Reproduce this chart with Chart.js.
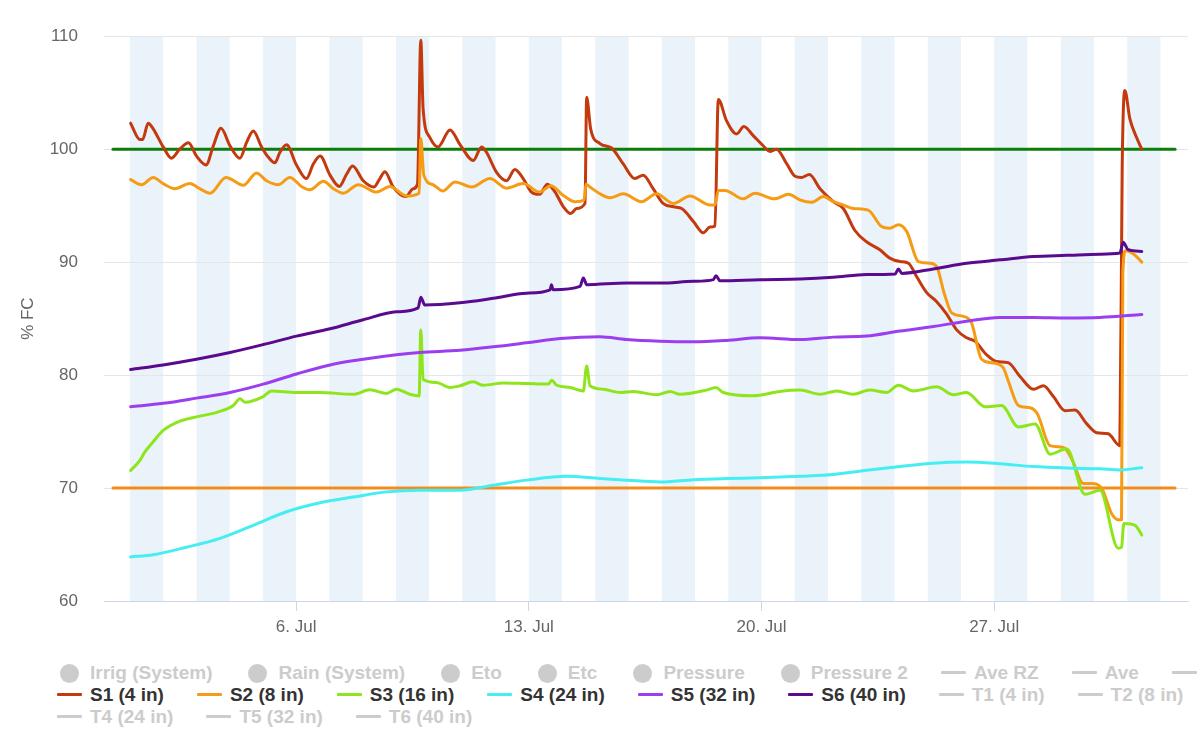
<!DOCTYPE html>
<html lang="en">
<head>
<meta charset="UTF-8">
<meta name="viewport" content="width=device-width, initial-scale=1.0">
<style>
    * {
        margin: 0;
        padding: 0;
        box-sizing: border-box;
    }
    body {
        width: 1200px;
        height: 756px;
        background: #fff;
        overflow: hidden;
        position: relative;
        font-family: "Liberation Sans", Arial, sans-serif;
    }
    .chart-box {
        position: absolute;
        left: 0;
        top: 0;
        width: 1200px;
        height: 641px;
    }
    .legend {
        position: absolute;
        left: 0;
        top: 662px;
        width: 1200px;
        height: 70px;
        overflow: hidden;
    }
    .legend-row {
        position: absolute;
        left: 57px;
        height: 22px;
        display: flex;
        align-items: center;
        white-space: nowrap;
    }
    .item {
        display: flex;
        align-items: center;
        margin-right: 33px;
        font-size: 19px;
        font-weight: bold;
        color: #333;
    }
    .item.off {
        color: #cccccc;
    }
    .sym {
        position: relative;
        width: 25px;
        height: 20px;
        margin-right: 8px;
        flex: none;
    }
    .sym .ln {
        position: absolute;
        left: 0;
        right: 0;
        top: 8px;
        height: 3px;
        border-radius: 1px;
    }
    .sym .dot {
        position: absolute;
        left: 3px;
        top: 1px;
        width: 19px;
        height: 19px;
        border-radius: 50%;
    }
</style>
</head>
<body>
    <div class="chart-box">
        <canvas id="moistureChart" width="1200" height="641"></canvas>
    </div>
    <div class="legend" id="legend"></div>

    <script src="https://cdn.jsdelivr.net/npm/chart.js"></script>
    <script>
        // x values are day of July (1.0 = Jul 1, 00:00)
        const TICK_DAYS = [6, 13, 20, 27];
        const SHADED_DAYS = [1, 3, 5, 7, 9, 11, 13, 15, 17, 19, 21, 23, 25, 27, 29, 31];

        const S1_DAYS = [1.02, 1.30, 1.38, 1.55, 1.70, 2.0, 2.25, 2.5, 2.76, 3.0, 3.29, 3.51, 3.74, 4.01, 4.31, 4.51, 4.71, 4.96, 5.16, 5.36, 5.51, 5.71, 6.01, 6.31, 6.52, 6.72, 7.02, 7.30, 7.52, 7.70, 8.02, 8.34, 8.52, 8.67, 8.92, 9.30, 9.52, 9.65, 9.75, 9.82, 10.02, 10.27, 10.63, 10.93, 11.33, 11.58, 11.73, 12.03, 12.33, 12.58, 12.83, 13.08, 13.32, 13.56, 13.79, 14.04, 14.26, 14.44, 14.69, 14.74, 14.86, 15.14, 15.49, 15.84, 16.19, 16.44, 16.74, 17.04, 17.35, 17.6, 17.95, 18.25, 18.45, 18.60, 18.70, 18.95, 19.25, 19.47, 19.75, 20.05, 20.25, 20.45, 20.76, 21.01, 21.2, 21.44, 21.76, 22.16, 22.46, 22.81, 23.16, 23.56, 23.86, 24.17, 24.42, 24.67, 24.97, 25.27, 25.57, 25.87, 26.17, 26.42, 26.77, 27.07, 27.42, 27.77, 28.18, 28.48, 28.78, 29.13, 29.43, 29.78, 30.08, 30.43, 30.78, 30.85, 30.93, 31.08, 31.28, 31.44];
        const S1_VALUES = [102.3, 100.85, 100.85, 102.3, 101.8, 100.2, 99.2, 100.0, 100.56, 99.4, 98.6, 100.3, 101.85, 100.3, 99.2, 100.6, 101.6, 100.2, 99.3, 98.8, 99.7, 100.4, 98.6, 97.4, 98.7, 99.4, 97.7, 96.7, 97.8, 98.5, 97.2, 96.65, 97.4, 98.0, 96.65, 95.8, 96.5, 96.9, 109.65, 103.55, 101.05, 100.2, 101.7, 100.4, 99.0, 100.2, 99.7, 97.95, 97.2, 98.2, 97.4, 96.2, 96.0, 96.9, 96.2, 94.9, 94.3, 94.75, 95.2, 104.6, 101.8, 100.5, 100.1, 98.7, 97.4, 97.7, 96.5, 95.2, 94.9, 94.75, 93.6, 92.6, 93.1, 93.2, 104.4, 102.5, 101.35, 102.0, 101.2, 100.3, 99.8, 100.0, 98.7, 97.6, 97.5, 97.75, 96.5, 95.35, 94.75, 92.8, 91.8, 91.1, 90.35, 90.05, 89.9, 88.7, 87.3, 86.5, 85.4, 84.0, 83.3, 83.0, 81.8, 81.2, 81.1, 79.9, 78.75, 79.05, 78.1, 76.85, 76.9, 75.7, 74.9, 74.8, 73.75, 98.3, 105.2, 102.7, 101.05, 100.0];

        const S2_DAYS = [1.02, 1.35, 1.70, 2.0, 2.35, 2.8, 3.1, 3.41, 3.89, 4.41, 4.81, 5.11, 5.46, 5.81, 6.16, 6.41, 6.82, 7.12, 7.42, 7.87, 8.42, 8.82, 9.32, 9.70, 9.75, 9.84, 10.12, 10.41, 10.78, 11.28, 11.83, 12.33, 12.83, 13.33, 13.66, 14.04, 14.39, 14.66, 14.72, 14.84, 15.14, 15.44, 15.84, 16.39, 16.84, 17.35, 17.85, 18.45, 18.60, 18.70, 18.90, 19.45, 19.80, 20.4, 20.81, 21.16, 21.51, 21.86, 22.16, 22.46, 22.76, 23.21, 23.61, 23.86, 24.12, 24.37, 24.72, 25.07, 25.27, 25.5, 25.72, 26.07, 26.32, 26.62, 26.92, 27.27, 27.42, 27.73, 28.08, 28.30, 28.68, 29.08, 29.33, 29.68, 29.93, 30.23, 30.53, 30.73, 30.83, 30.87, 30.95, 31.2, 31.44];
        const S2_VALUES = [97.3, 96.85, 97.5, 96.95, 96.5, 96.95, 96.5, 96.1, 97.5, 96.8, 97.9, 97.2, 96.85, 97.5, 96.7, 96.4, 97.15, 96.5, 96.1, 96.85, 96.2, 96.7, 95.85, 96.1, 100.95, 97.7, 96.85, 96.3, 97.1, 96.65, 97.4, 96.55, 96.95, 96.2, 96.75, 95.9, 95.35, 95.5, 96.9, 96.65, 96.05, 95.7, 96.05, 95.35, 96.05, 95.2, 95.85, 95.05, 95.05, 96.35, 96.35, 95.6, 96.1, 95.6, 96.0, 95.5, 95.3, 95.8, 95.35, 95.05, 94.75, 94.6, 93.15, 93.0, 93.3, 92.7, 90.05, 89.9, 89.6, 87.2, 85.5, 85.2, 84.6, 81.4, 81.1, 80.66, 79.5, 77.3, 77.1, 76.55, 73.75, 73.6, 72.6, 70.4, 70.4, 70.0, 67.75, 67.2, 67.2, 89.0, 91.0, 90.7, 90.0];

        const S3_DAYS = [1.02, 1.30, 1.45, 1.70, 2.0, 2.4, 3.0, 3.61, 4.11, 4.31, 4.46, 5.01, 5.26, 6.01, 6.72, 7.72, 8.22, 8.72, 9.02, 9.42, 9.70, 9.75, 9.82, 10.22, 10.63, 10.93, 11.33, 11.63, 12.23, 12.93, 13.59, 13.69, 13.84, 14.24, 14.64, 14.74, 14.84, 15.24, 15.74, 16.14, 16.85, 17.25, 17.55, 18.35, 18.63, 18.85, 19.75, 20.55, 21.16, 21.76, 22.26, 22.76, 23.26, 23.76, 24.12, 24.57, 25.27, 25.77, 26.17, 26.72, 27.22, 27.73, 28.23, 28.68, 29.18, 29.73, 30.18, 30.73, 30.83, 30.9, 31.24, 31.44];
        const S3_VALUES = [71.55, 72.45, 73.2, 74.1, 75.1, 75.8, 76.3, 76.7, 77.3, 77.9, 77.6, 78.1, 78.6, 78.46, 78.46, 78.3, 78.7, 78.37, 78.75, 78.3, 78.15, 84.0, 79.6, 79.34, 78.9, 79.05, 79.4, 79.1, 79.3, 79.25, 79.2, 79.55, 79.1, 78.9, 78.6, 80.8, 79.05, 78.75, 78.46, 78.55, 78.25, 78.55, 78.3, 78.67, 78.9, 78.46, 78.17, 78.55, 78.67, 78.3, 78.6, 78.3, 78.67, 78.46, 79.1, 78.6, 78.96, 78.25, 78.46, 77.2, 77.3, 75.4, 75.67, 73.0, 73.47, 69.45, 69.8, 64.67, 64.76, 66.87, 66.7, 65.84];

        const S4_DAYS = [1.02, 1.70, 2.7, 3.71, 4.71, 5.71, 6.72, 7.72, 8.72, 9.72, 10.93, 11.93, 12.93, 14.14, 15.14, 15.94, 16.95, 17.95, 18.95, 19.95, 21.16, 22.16, 23.16, 24.17, 25.17, 26.17, 27.17, 28.18, 29.18, 30.18, 30.78, 31.44];
        const S4_VALUES = [63.9, 64.1, 64.76, 65.55, 66.7, 67.9, 68.7, 69.2, 69.66, 69.8, 69.8, 70.25, 70.7, 71.04, 70.84, 70.7, 70.54, 70.74, 70.84, 70.9, 71.04, 71.2, 71.57, 71.9, 72.2, 72.3, 72.15, 71.9, 71.77, 71.7, 71.6, 71.8];

        const S5_DAYS = [1.02, 2.0, 3.0, 4.01, 5.01, 6.01, 7.02, 8.02, 9.02, 9.72, 10.93, 11.93, 12.93, 13.94, 15.14, 15.94, 16.95, 17.95, 18.95, 19.95, 21.16, 22.16, 23.16, 24.17, 25.17, 26.17, 27.17, 28.18, 29.18, 30.18, 31.44];
        const S5_VALUES = [77.2, 77.5, 77.96, 78.46, 79.2, 80.1, 80.9, 81.4, 81.8, 82.0, 82.2, 82.5, 82.86, 83.24, 83.4, 83.15, 83.0, 82.95, 83.07, 83.3, 83.15, 83.36, 83.45, 83.9, 84.3, 84.77, 85.1, 85.1, 85.06, 85.1, 85.36];

        const S6_DAYS = [1.02, 2.0, 3.0, 4.01, 5.01, 6.01, 7.02, 8.02, 9.02, 9.67, 9.75, 9.87, 10.93, 11.93, 12.93, 13.64, 13.68, 13.73, 14.54, 14.64, 14.74, 15.94, 16.95, 17.95, 18.55, 18.63, 18.75, 19.95, 21.16, 22.16, 23.16, 24.02, 24.12, 24.22, 25.17, 26.17, 27.17, 28.18, 29.18, 30.18, 30.78, 30.88, 31.03, 31.44];
        const S6_VALUES = [80.5, 80.9, 81.4, 82.0, 82.7, 83.45, 84.1, 84.9, 85.6, 85.95, 86.9, 86.2, 86.4, 86.8, 87.25, 87.55, 88.0, 87.55, 87.85, 88.6, 88.0, 88.15, 88.15, 88.3, 88.45, 88.8, 88.35, 88.45, 88.5, 88.65, 88.9, 88.95, 89.4, 89.0, 89.4, 89.9, 90.2, 90.5, 90.6, 90.7, 90.8, 91.75, 91.1, 90.95];

        const LIMIT_DAYS = [0.49, 32.44];
        const UPPER_LIMIT = [100, 100];
        const LOWER_LIMIT = [70, 70];

        const SERIES_NAMES = ['S1 (4 in)', 'S2 (8 in)', 'S3 (16 in)', 'S4 (24 in)', 'S5 (32 in)', 'S6 (40 in)'];
        const SERIES_COLORS = ['#c23a0e', '#f59c14', '#8ee51c', '#45eef2', '#9b3ef0', '#5a0a8f'];

        // legend rows as they wrap in the original; hidden items drawn grey
        const LEGEND_ROW1 = ['Irrig (System)', 'Rain (System)', 'Eto', 'Etc', 'Pressure', 'Pressure 2', 'Ave RZ', 'Ave', ''];
        const LEGEND_ROW1_DOT = [true, true, true, true, true, true, false, false, false];
        const LEGEND_ROW2 = ['S1 (4 in)', 'S2 (8 in)', 'S3 (16 in)', 'S4 (24 in)', 'S5 (32 in)', 'S6 (40 in)', 'T1 (4 in)', 'T2 (8 in)', 'T3 (16 in)'];
        const LEGEND_ROW3 = ['T4 (24 in)', 'T5 (32 in)', 'T6 (40 in)'];

        function pairs(xs, ys) {
            return xs.map((x, i) => ({ x: x, y: ys[i] }));
        }

        const seriesDays = [S1_DAYS, S2_DAYS, S3_DAYS, S4_DAYS, S5_DAYS, S6_DAYS];
        const seriesValues = [S1_VALUES, S2_VALUES, S3_VALUES, S4_VALUES, S5_VALUES, S6_VALUES];

        const datasets = SERIES_NAMES.map((name, i) => ({
            label: name,
            data: pairs(seriesDays[i], seriesValues[i]),
            borderColor: SERIES_COLORS[i],
            borderWidth: 3,
            cubicInterpolationMode: 'monotone',
            order: 6 - i   // later series on top
        }));
        datasets.push({
            label: 'upper',
            data: pairs(LIMIT_DAYS, UPPER_LIMIT),
            borderColor: '#0b7d0b',
            borderWidth: 3,
            order: 10
        });
        datasets.push({
            label: 'lower',
            data: pairs(LIMIT_DAYS, LOWER_LIMIT),
            borderColor: '#f28c1c',
            borderWidth: 3,
            order: 10
        });

        // alternate day shading behind the grid
        const dayBands = {
            id: 'dayBands',
            beforeDraw(chart) {
                const c = chart.ctx;
                const area = chart.chartArea;
                const xs = chart.scales.x;
                c.save();
                c.fillStyle = '#fff';
                c.fillRect(0, 0, chart.width, chart.height);
                c.fillStyle = '#ebf3fa';
                SHADED_DAYS.forEach(d => {
                    const a = Math.max(xs.getPixelForValue(d), area.left);
                    const b = Math.min(xs.getPixelForValue(d + 1), area.right);
                    if (b > a) c.fillRect(a, area.top, b - a, area.bottom - area.top);
                });
                c.restore();
            }
        };

        new Chart(document.getElementById('moistureChart'), {
            type: 'line',
            data: { datasets: datasets },
            options: {
                responsive: false,
                animation: false,
                devicePixelRatio: 1,
                layout: { padding: { left: 14, right: 12, top: 33, bottom: 0 } },
                elements: {
                    point: { radius: 0 },
                    line: { tension: 0, borderJoinStyle: 'round', borderCapStyle: 'round' }
                },
                plugins: {
                    legend: { display: false },
                    tooltip: { enabled: false }
                },
                scales: {
                    x: {
                        type: 'linear',
                        min: 0.22,
                        max: 32.83,
                        afterBuildTicks: axis => {
                            axis.ticks = TICK_DAYS.map(v => ({ value: v }));
                        },
                        afterFit: axis => {
                            axis.height = 40;
                        },
                        grid: {
                            drawOnChartArea: false,
                            drawTicks: true,
                            tickLength: 10,
                            color: '#ccd6eb'
                        },
                        border: { display: true, color: '#ccd6eb', width: 1 },
                        ticks: {
                            color: '#666666',
                            padding: 6,
                            maxRotation: 0,
                            font: { family: '"Liberation Sans", Arial, sans-serif', size: 17 },
                            callback: v => v + '. Jul'
                        }
                    },
                    y: {
                        min: 60,
                        max: 110,
                        afterFit: axis => {
                            axis.width = 90;
                        },
                        grid: { color: '#e6e6e6', drawTicks: false, tickLength: 0 },
                        border: { display: false },
                        ticks: {
                            stepSize: 10,
                            color: '#666666',
                            padding: 26,
                            font: { family: '"Liberation Sans", Arial, sans-serif', size: 17 }
                        },
                        title: {
                            display: true,
                            text: '% FC',
                            color: '#666666',
                            padding: { top: 4, bottom: 4 },
                            font: { family: '"Liberation Sans", Arial, sans-serif', size: 17 }
                        }
                    }
                }
            },
            plugins: [dayBands]
        });

        // html legend
        const legendEl = document.getElementById('legend');
        function addRow(names, top, makeItem) {
            const row = document.createElement('div');
            row.className = 'legend-row';
            row.style.top = top + 'px';
            names.forEach((n, i) => row.appendChild(makeItem(n, i)));
            legendEl.appendChild(row);
        }
        function item(name, color, dot, off) {
            const el = document.createElement('div');
            el.className = 'item' + (off ? ' off' : '');
            const sym = document.createElement('span');
            sym.className = 'sym';
            const mark = document.createElement('span');
            mark.className = dot ? 'dot' : 'ln';
            mark.style.background = color;
            sym.appendChild(mark);
            el.appendChild(sym);
            if (name) {
                const t = document.createElement('span');
                t.textContent = name;
                el.appendChild(t);
            }
            return el;
        }
        addRow(LEGEND_ROW1, 0, (n, i) => item(n, '#cccccc', LEGEND_ROW1_DOT[i], true));
        addRow(LEGEND_ROW2, 22, (n, i) => i < SERIES_COLORS.length
            ? item(n, SERIES_COLORS[i], false, false)
            : item(n, '#cccccc', false, true));
        addRow(LEGEND_ROW3, 44, n => item(n, '#cccccc', false, true));
    </script>
</body>
</html>
